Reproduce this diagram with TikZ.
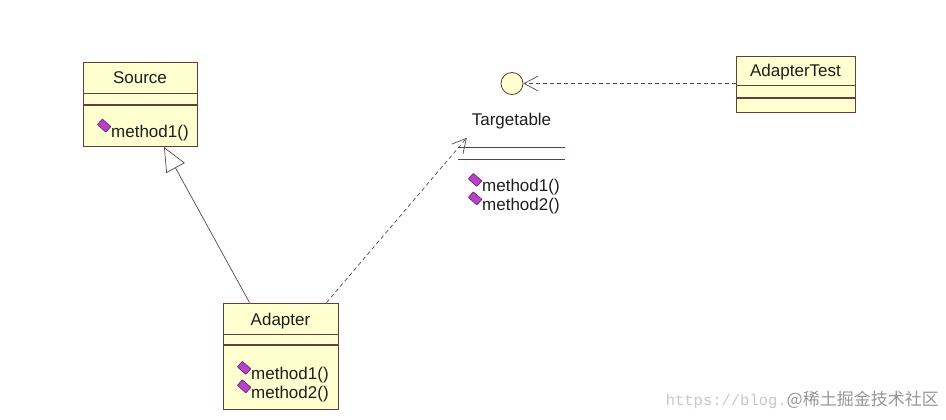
\documentclass[tikz,border=0pt]{standalone}
\usepackage{fontspec}
\setmainfont{Liberation Sans}
\setmonofont{Liberation Mono}
\newfontfamily\cjk{Noto Sans CJK SC}
\usetikzlibrary{arrows.meta,positioning}
\definecolor{clsfill}{RGB}{255,255,208}
\definecolor{clsline}{RGB}{105,60,55}
\definecolor{linkline}{RGB}{85,70,75}
\definecolor{opfill}{RGB}{185,65,200}
\definecolor{opline}{RGB}{115,35,125}
\definecolor{txt}{RGB}{30,30,30}
\definecolor{wmlight}{RGB}{200,200,200}
\definecolor{wmdark}{RGB}{150,150,150}

% operation icon + name
\newcommand{\op}[1]{\smash{\tikz[x=1pt,y=1pt,baseline=0pt]\filldraw[fill=opfill,draw=opline,line width=0.7pt,rounded corners=0.4pt]
  (0,13)--(5,18.5)--(13.5,11)--(8.5,5.5)--cycle;}#1}

\begin{document}
\begin{tikzpicture}[x=1pt,y=-1pt,every node/.style={font=\fontsize{17}{18.5}\selectfont,text=txt},
    cls/.style={draw=clsline,fill=clsfill,inner sep=0pt,line width=0.8pt},
    ctitle/.style={cls,minimum height=31pt,text height=13pt,text depth=0pt},
    cattr/.style={cls,minimum height=11pt},
    cops/.style={cls,align=left,inner xsep=14pt,inner ysep=0pt,text height=26.5pt},
    gen/.style={draw=linkline,line width=0.7pt,-{Triangle[open,length=24pt,width=21pt]}},
    dep/.style={draw=linkline,line width=0.7pt,dash pattern=on 4pt off 3pt,
                -{Straight Barb[length=14pt,width=15pt]}}]
  \useasboundingbox (0,0) rectangle (946,420);

  % Source
  \node[ctitle,minimum width=114pt] (src) at (140,77.5) {Source};
  \node[cattr,minimum width=114pt,below=0pt of src] (src-attr) {};
  \node[cops,minimum width=114pt,text width=86pt,minimum height=41pt,below=0pt of src-attr] (src-ops)
       {\op{method1()}};

  % Adapter
  \node[ctitle,minimum width=115pt] (ad) at (280.5,318.5) {Adapter};
  \node[cattr,minimum width=115pt,minimum height=10pt,below=0pt of ad] (ad-attr) {};
  \node[cops,minimum width=115pt,text width=87pt,minimum height=64pt,below=0pt of ad-attr] (ad-ops)
       {\op{method1()}\\\op{method2()}};

  % AdapterTest
  \node[ctitle,minimum width=119pt,minimum height=29pt] (at) at (795.5,70.5) {AdapterTest};
  \node[cattr,minimum width=119pt,minimum height=12pt,below=0pt of at] (at-attr) {};
  \node[cattr,minimum width=119pt,minimum height=14pt,below=0pt of at-attr] (at-ops) {};

  % Targetable (interface)
  \node[cls,circle,minimum size=22pt] (tgt) at (512,83.5) {};
  \node (tgt-name) at (511.5,121.5) {Targetable};
  \node[minimum width=107pt,minimum height=11pt,inner sep=0pt] (tgt-attr) at (511.5,153.5) {};
  \draw[clsline,line width=0.8pt] (tgt-attr.north west) -- (tgt-attr.north east)
       (tgt-attr.south west) -- (tgt-attr.south east);
  \node[align=left,inner xsep=10pt,inner ysep=6pt,text width=87pt,text height=26.5pt,
        below=0pt of tgt-attr] (tgt-ops) {\op{method1()}\\\op{method2()}};

  % links
  \draw[gen] ([xshift=-31pt]ad.north) -- ([xshift=24pt]src-ops.south);
  \draw[dep] ([xshift=46pt]ad.north) -- ([xshift=9pt,yshift=10pt]tgt-attr.north west);
  \draw[dep] (at-attr.north west |- tgt.east) -- (tgt.east);

  \node[anchor=base east,inner sep=0pt] (wm) at (939,405)
       {\textcolor{wmlight}{\fontsize{15.5}{16}\ttfamily https://blog.}\textcolor{wmdark}{\fontsize{17}{18}\cjk @稀土掘金技术社区}};
\end{tikzpicture}
\end{document}
